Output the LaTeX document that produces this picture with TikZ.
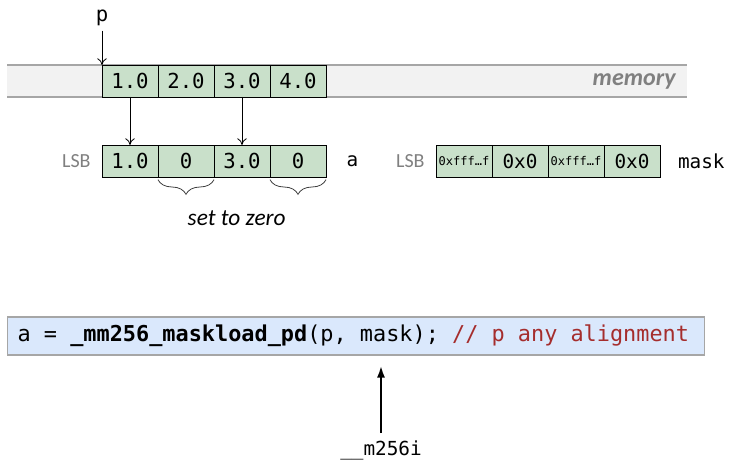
\documentclass[tikz,border=0pt]{standalone}
\usepackage{fontspec}
\setmainfont{Carlito}
\setmonofont{DejaVu Sans Mono}
\usepackage{xcolor}
\usetikzlibrary{
  arrows.meta,
  positioning,
  decorations.pathreplacing
}
\definecolor{cellgreen}{RGB}{201,224,202}
\definecolor{memgray}{RGB}{242,242,242}
\definecolor{memline}{RGB}{166,166,166}
\definecolor{codeblue}{RGB}{218,232,252}
\definecolor{commentred}{RGB}{165,45,45}
\definecolor{lsbgray}{RGB}{128,128,128}

\begin{document}
\begin{tikzpicture}[
  x=0.75pt, y=-0.75pt,
  cell/.style={
    rectangle, draw=black, fill=cellgreen, line width=0.6pt,
    minimum width=42pt, minimum height=24pt, inner sep=0pt, outer sep=0pt,
    font=\fontsize{15.5}{18}\selectfont\ttfamily
  },
  maskcell/.style={cell, font=\fontsize{14.5}{17}\selectfont\ttfamily},
  tiny/.style={font=\fontsize{9}{11}\selectfont\ttfamily},
  lsb/.style={text=lsbgray, font=\fontsize{15}{18}\selectfont},
  var/.style={font=\fontsize{14.5}{17}\selectfont\ttfamily},
  arr/.style={-{To[length=5pt,width=7pt]}, line width=0.6pt},
  brc/.style={decorate, decoration={brace, amplitude=11pt, mirror}, draw=black!75, line width=0.6pt}
]
  \useasboundingbox (0,0) rectangle (737,466);

  % memory strip
  \node[fill=memgray, minimum width=510pt, minimum height=24pt, inner sep=0pt, outer sep=0pt,
        anchor=west] (band) at (7,81) {};
  \draw[memline, line width=0.8pt] (band.north west) -- (band.north east);
  \draw[memline, line width=0.8pt] (band.south west) -- (band.south east);
  \node[text=lsbgray, font=\fontsize{18}{21}\selectfont\bfseries\itshape, anchor=east]
    (memlbl) at ([xshift=-5pt]band.east) {memory};

  % values in memory
  \node[cell, anchor=west] (m1) at (102,81) {1.0};
  \node[cell, right=0pt of m1] (m2) {2.0};
  \node[cell, right=0pt of m2] (m3) {3.0};
  \node[cell, right=0pt of m3] (m4) {4.0};

  \node[var, font=\fontsize{15.5}{18}\selectfont\ttfamily] (p) at (102,18) {p};
  \draw[arr] (p.south) -- (m1.north west);

  % register a
  \node[cell, anchor=west] (a1) at (102,161) {1.0};
  \node[cell, right=0pt of a1] (a2) {0};
  \node[cell, right=0pt of a2] (a3) {3.0};
  \node[cell, right=0pt of a3] (a4) {0};
  \node[lsb, left=5pt of a1] (alsb) {LSB};
  \node[var, right=12pt of a4] (aname) {a};

  \foreach \n in {1,3} {
    \draw[arr] (m\n.south) -- (a\n.north);
  }

  \draw[brc] ([yshift=-2pt]a2.south west) -- ([yshift=-2pt]a2.south east);
  \draw[brc] ([yshift=-2pt]a4.south west) -- ([yshift=-2pt]a4.south east);
  \node[font=\fontsize{17.5}{20}\selectfont\itshape, below=22pt of a3, xshift=-4pt] (zero) {set to zero};

  % register mask
  \node[cell, tiny, anchor=west] (k1) at (436,161) {0xfff…f};
  \node[maskcell, right=0pt of k1] (k2) {0x0};
  \node[cell, tiny, right=0pt of k2] (k3) {0xfff…f};
  \node[maskcell, right=0pt of k3] (k4) {0x0};
  \node[lsb, left=5pt of k1] (klsb) {LSB};
  \node[var, right=10pt of k4] (kname) {mask};

  % intrinsic call
  \node[draw=memline, fill=codeblue, line width=0.8pt, anchor=west,
        minimum width=522.75pt, minimum height=28.5pt, inner sep=0pt,
        font=\fontsize{16.4}{19}\selectfont\ttfamily] (code) at (7,336)
    {\ttfamily a = \textbf{\_mm256\_maskload\_pd}(p, mask); \textcolor{commentred}{\ttfamily // p any alignment}\hspace*{4pt}};

  \node[var] (vec) at (381,450) {\_\_m256i};
  \draw[-{Latex[length=9pt,width=6pt]}, line width=1.7pt, shorten >=7.5pt]
    ([yshift=2pt]vec.north) -- (vec.north |- code.south);
\end{tikzpicture}
\end{document}
